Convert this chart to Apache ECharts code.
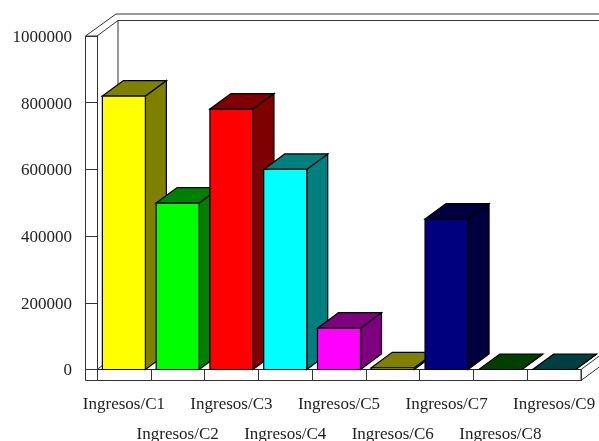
<!DOCTYPE html>
<html><head><meta charset="utf-8">
<style>html,body{margin:0;padding:0;background:#fff}#c{width:599px;height:441px}</style>
<script src="https://cdn.jsdelivr.net/npm/echarts@6/dist/echarts.min.js"></script>
</head><body><div id="c"></div>
<script>
const categories = ['Ingresos/C1','Ingresos/C2','Ingresos/C3','Ingresos/C4','Ingresos/C5','Ingresos/C6','Ingresos/C7','Ingresos/C8','Ingresos/C9'];
const values = [820000,499000,781000,600000,124000,5000,451000,0,0];
const frontColors = ['#ffff00','#00ff00','#ff0000','#00ffff','#ff00ff','#ffff00','#00007f','#007f00','#007f7f'];
const sideColors = ['#7f7f00','#007f00','#7f0000','#007f7f','#7f007f','#7f7f00','#00003f','#003f00','#003f3f'];
const DX = 21, DY = -15.5, BAR_RATIO = 0.8;
const LINE = '#000';
const chart = echarts.init(document.getElementById('c'), null, {renderer:'canvas'});

function seg(x1,y1,x2,y2,color,w){
  return {type:'line',shape:{x1,y1,x2,y2},style:{stroke:color||'#333',lineWidth:w||1}};
}
function renderFrame(params){
  const c = params.coordSys;
  const l=c.x,r=c.x+c.width,t=c.y,b=c.y+c.height;
  const oL=l-11.5,oB=b+11;
  const C='#333';
  return {type:'group',silent:true,children:[
    seg(l+DX,t+DY,l+DX,b+DY,C), seg(l,t,l+DX,t+DY,C), seg(l+DX,t+DY,r+DX,t+DY,C),
    seg(oL,t,l,t,C), seg(oL,t,oL,oB,C), seg(oL,oB,r,oB,C),
    seg(oL,t,l+19,t-22,C), seg(l+19,t-22,r+DX,t-22,C),
    seg(l,b,l+DX,b+DY,C), seg(r,b,r,oB,C), seg(r,b,r+DX,b+DY,C), seg(r,oB,r+DX,oB+DY,C)
  ]};
}
function renderBar(params, api){
  const i = api.value(0);
  const base = api.coord([i,0]);
  const top = api.coord([i,api.value(1)]);
  const w = api.size([1,0])[0]*BAR_RATIO;
  const x0 = base[0]-w/2, x1 = base[0]+w/2, yT = top[1], yB = base[1];
  const s = {stroke:LINE,lineWidth:1.2};
  const poly = (pts,fill)=>({type:'polygon',shape:{points:pts},style:Object.assign({fill},s)});
  return {type:'group',children:[
    poly([[x1,yB],[x1+DX,yB+DY],[x1+DX,yT+DY],[x1,yT]],sideColors[i]),
    poly([[x0,yT],[x0+DX,yT+DY],[x1+DX,yT+DY],[x1,yT]],sideColors[i]),
    poly([[x0,yB],[x1,yB],[x1,yT],[x0,yT]],frontColors[i])
  ]};
}
chart.setOption({
  animation:false,
  backgroundColor:'#fff',
  textStyle:{fontFamily:'"Liberation Serif"'},
  grid:{left:97,right:18,top:36,bottom:71.5,containLabel:false,outerBoundsMode:'none'},
  xAxis:{type:'category',data:categories,
    axisLine:{show:true,onZero:false,lineStyle:{color:'#222',width:1.2}},
    axisTick:{show:true,inside:false,alignWithLabel:false,length:11,lineStyle:{color:'#333',width:1}},
    axisLabel:{interval:0,hideOverlap:false,color:'#222',fontSize:17,fontFamily:'"Liberation Serif"',margin:20,lineHeight:30,
      formatter:(v,i)=>i%2?'\n'+v:v},
    splitLine:{show:false}},
  yAxis:{type:'value',min:0,max:1000000,interval:200000,
    axisLine:{show:true,lineStyle:{color:'#333',width:1}},
    axisTick:{show:true,length:11.5,lineStyle:{color:'#333',width:1}},
    axisLabel:{color:'#222',fontSize:17,fontFamily:'"Liberation Serif"',margin:25,hideOverlap:false,verticalAlign:'top',lineHeight:3,formatter:v=>String(v)},
    splitLine:{show:false}},
  series:[
    {type:'custom',name:'frame',data:[[0,0]],renderItem:renderFrame,clip:false,z:1,silent:true},
    {type:'custom',name:'Ingresos',data:values.map((v,i)=>[i,v]),encode:{x:0,y:1},renderItem:renderBar,clip:false,z:2}
  ]
});
</script></body></html>
